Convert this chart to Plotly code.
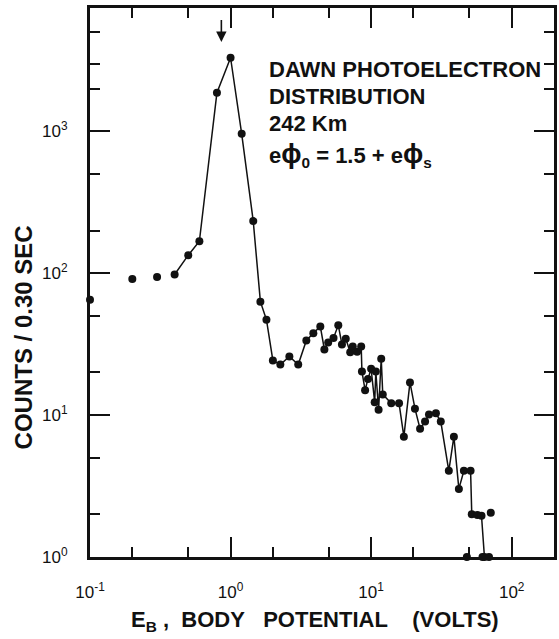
import numpy as np
import plotly.graph_objects as go

# connected data series (energy in volts, counts per 0.30 s)
line_x = [0.4, 0.5, 0.6, 0.8, 1.0, 1.2, 1.45, 1.63, 1.8, 2.0, 2.26, 2.62, 3.03, 3.46, 3.88,
          4.35, 4.65, 4.95, 5.4, 5.84, 6.2, 6.6, 7.1, 7.4, 7.95, 8.5, 8.6, 9.06, 9.5, 10.0,
          10.6, 10.8, 11.3, 11.8, 12.1, 13.9, 15.8, 17.1, 18.9, 20.5, 22.3, 24.2, 25.8, 28.9,
          31.3, 35.7, 38.8, 42.1, 45.7, 51.0, 52.0, 57.0, 61.0, 64.0]
line_y = [98, 134, 168, 1870, 3300, 960, 233, 63, 47, 24.3, 22.7, 25.9, 22.7, 33.6, 37.7,
          42.2, 29.0, 32.5, 35.0, 43.0, 31.5, 34.5, 27.7, 30.5, 28.0, 30.5, 20.3, 15.0, 18.0, 21.2,
          12.3, 20.3, 10.9, 25.0, 14.0, 12.1, 12.1, 7.05, 17.0, 11.1, 8.0, 9.0, 10.1, 10.3,
          9.0, 4.05, 7.05, 3.02, 4.05, 4.05, 2.0, 1.98, 1.95, 1.0]

# isolated points (not joined by the line)
dot_x = [0.1, 0.2, 0.3, 71.0, 48.0, 62.0, 69.0]
dot_y = [65, 91, 94, 2.05, 1.0, 1.0, 1.0]

x_major = [0.1, 1, 10, 100]
x_major_text = ["10<sup>-1</sup>", "10<sup>0</sup>", "10<sup>1</sup>", "10<sup>2</sup>"]
x_minor = [0.2, 0.5, 2, 5, 20, 50]
y_major = [1, 10, 100, 1000]
y_major_text = ["10<sup>0</sup>", "10<sup>1</sup>", "10<sup>2</sup>", "10<sup>3</sup>"]
y_minor = [2, 5, 20, 50, 200, 500, 2000, 3000, 5000]

x_range = [0.1, 200]
y_range = [1, 7400]

arrow_x = 0.86
arrow_y_head = 4270
arrow_y_tail = 6240

NB = "\u00a0"
PHI = '<span style="font-size:27px">\u03d5</span>'
info_lines = ["DAWN PHOTOELECTRON", "DISTRIBUTION", "242 Km",
              "e" + PHI + "<sub>0</sub>" + NB + "=" + NB + "1.5" + NB + "+" + NB + "e" + PHI + "<sub>s</sub>"]
x_title = "E<sub>B</sub>" + NB + "," + NB * 2 + "BODY" + NB * 3 + "POTENTIAL" + NB * 4 + "(VOLTS)"
y_title = "COUNTS" + NB + "/" + NB + "0.30" + NB + "SEC"

FONT = "Liberation Sans"
INK = "#111111"

fig = go.Figure()
fig.add_trace(go.Scatter(x=line_x, y=line_y, mode="lines+markers",
                         line=dict(color=INK, width=1.5),
                         marker=dict(color=INK, size=8),
                         cliponaxis=False, showlegend=False))
fig.add_trace(go.Scatter(x=dot_x, y=dot_y, mode="markers",
                         marker=dict(color=INK, size=8),
                         cliponaxis=False, showlegend=False))

axis_common = dict(showgrid=False, zeroline=False, showline=True, linecolor=INK,
                   linewidth=3, mirror="ticks", ticks="inside", ticklen=20,
                   tickwidth=1.6, tickcolor=INK,
                   tickfont=dict(family=FONT, size=17, color=INK))

fig.update_xaxes(type="log", range=[np.log10(x_range[0]), np.log10(x_range[1])],
                 tickmode="array", tickvals=x_major, ticktext=x_major_text,
                 ticklabelstandoff=18,
                 minor=dict(tickmode="array", tickvals=x_minor, ticks="inside",
                            ticklen=10, tickwidth=1.6, tickcolor=INK, showgrid=False),
                 **axis_common)
fig.update_yaxes(type="log", range=[np.log10(y_range[0]), np.log10(y_range[1])],
                 tickmode="array", tickvals=y_major, ticktext=y_major_text,
                 ticklabelstandoff=16,
                 minor=dict(tickmode="array", tickvals=y_minor, ticks="inside",
                            ticklen=10, tickwidth=1.6, tickcolor=INK, showgrid=False),
                 **axis_common)

annotations = []
# arrow marking the peak
annotations.append(dict(x=np.log10(arrow_x), y=np.log10(arrow_y_head), xref="x", yref="y",
                        ax=np.log10(arrow_x), ay=np.log10(arrow_y_tail), axref="x", ayref="y",
                        showarrow=True, arrowhead=2, arrowsize=1.3, arrowwidth=1.6,
                        arrowcolor=INK, text=""))
# info text
line_ys = [69, 96, 123, 155]
for txt, ypx in zip(info_lines, line_ys):
    annotations.append(dict(text="<b>" + txt + "</b>", xref="paper", yref="paper",
                            x=(268 - 90) / 467, y=(557 - ypx) / 549,
                            xanchor="left", yanchor="middle", showarrow=False,
                            font=dict(family=FONT, size=22, color=INK)))
# axis titles
annotations.append(dict(text="<b>" + x_title + "</b>", xref="paper", yref="paper",
                        x=(316 - 90) / 467, y=(557 - 621) / 549, xanchor="center", yanchor="middle",
                        showarrow=False, font=dict(family=FONT, size=22, color=INK)))
annotations.append(dict(text="<b>" + y_title + "</b>", xref="paper", yref="paper",
                        x=(23 - 90) / 467, y=(557 - 337) / 549, xanchor="center", yanchor="middle",
                        textangle=-90, showarrow=False,
                        font=dict(family=FONT, size=24, color=INK)))

fig.update_layout(width=559, height=639, margin=dict(l=90, r=2, t=8, b=82),
                  paper_bgcolor="white", plot_bgcolor="white",
                  annotations=annotations, showlegend=False)

fig.write_html("out.html", config={"displayModeBar": False},
               post_script="document.body.style.margin='0';")
